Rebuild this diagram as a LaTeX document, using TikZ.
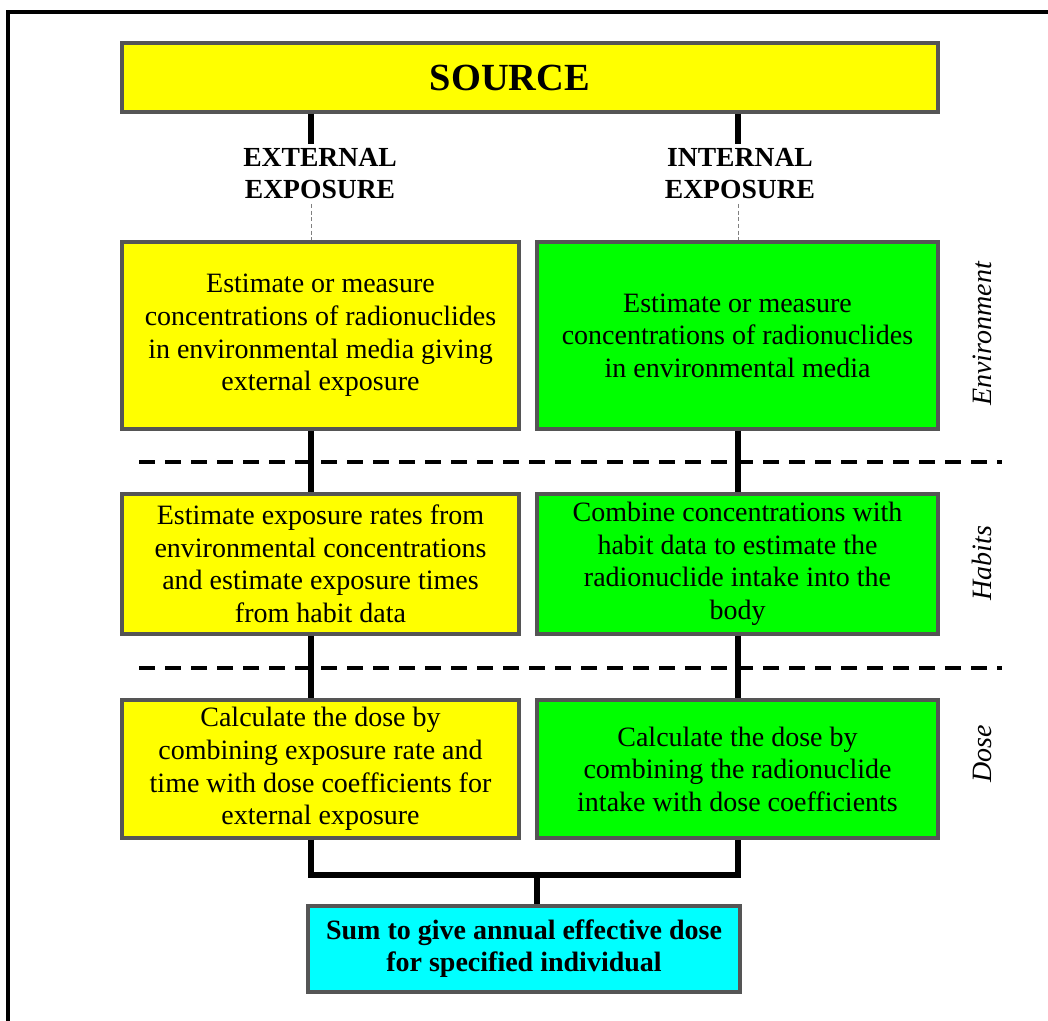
\documentclass[tikz,border=0pt]{standalone}
\usepackage{fontspec}
\setmainfont{Liberation Serif}
\usepackage{xcolor}
\usepackage{tikz}
\usetikzlibrary{calc}

\definecolor{boxyellow}{RGB}{255,255,0}
\definecolor{boxgreen}{RGB}{0,255,0}
\definecolor{boxcyan}{RGB}{0,255,255}
\definecolor{boxedge}{RGB}{85,85,85}

\begin{document}
\begin{tikzpicture}[x=0.75pt, y=-0.75pt,
    box/.style={draw=boxedge, line width=2.6pt, align=center, inner sep=0pt,
        font=\fontsize{21}{24.4}\selectfont},
    lbox/.style={box, fill=boxyellow, minimum width=297.75pt},
    rbox/.style={box, fill=boxgreen, minimum width=300.75pt},
    kind/.style={align=center, font=\fontsize{20.7}{24}\selectfont\bfseries},
    side/.style={rotate=90, font=\fontsize{21}{24}\selectfont\itshape},
    link/.style={line width=5.2pt},
    lane/.style={line width=3pt, dash pattern=on 12pt off 7.5pt}
]
    \useasboundingbox (0,0) rectangle (1048,1020);

    % Frame
    \draw[line width=3pt] (8,1030) -- (8,12.5) -- (1060,12.5);

    % Separators between the stages
    \foreach \y in {462,668}{
        \draw[lane] (139,\y) -- (1002,\y);
    }

    % Nodes
    \node[box, fill=boxyellow, minimum width=612pt, minimum height=51.75pt,
        font=\fontsize{28.8}{30}\selectfont\bfseries] (source) at (530,77.5) {SOURCE\hspace*{30pt}};

    \node[kind] (extlbl) at (320,174) {EXTERNAL\\EXPOSURE};
    \node[kind] (intlbl) at (740,174) {INTERNAL\\EXPOSURE};

    \node[lbox, minimum height=140.25pt] (env1) at (320.5,335.5)
        {Estimate or measure\\concentrations of radionuclides\\in environmental media giving\\external exposure};
    \node[rbox, minimum height=140.25pt] (env2) at (737.5,335.5)
        {Estimate or measure\\concentrations of radionuclides\\in environmental media};

    \node[lbox, minimum height=105pt] (hab1) at (320.5,564)
        {Estimate exposure rates from\\environmental concentrations\\and estimate exposure times\\from habit data};
    \node[rbox, minimum height=105pt] (hab2) at (737.5,564)
        {Combine concentrations with\\habit data to estimate the\\radionuclide intake into the\\body};

    \node[lbox, minimum height=103.5pt] (dose1) at (320.5,769)
        {Calculate the dose by\\combining exposure rate and\\time with dose coefficients for\\external exposure};
    \node[rbox, minimum height=103.5pt] (dose2) at (737.5,769)
        {Calculate the dose by\\combining the radionuclide\\intake with dose coefficients};

    \node[box, fill=boxcyan, minimum width=324pt, minimum height=64.5pt,
        font=\fontsize{21}{24}\selectfont\bfseries] (sum) at (524,949)
        {Sum to give annual effective dose\\for specified individual};

    % Stage names
    \node[side] (envlbl) at (982,334) {Environment};
    \node[side] (hablbl) at (982,563) {Habits};
    \node[side] (doselbl) at (982,754) {Dose};

    % Connectors
    \coordinate (lx) at (311,0);
    \coordinate (rx) at (738,0);
    \coordinate (join) at (537,875);

    \draw[link] (source.south -| lx) -- (extlbl.north -| lx);
    \draw[link] (source.south -| rx) -- (intlbl.north -| rx);
    \draw[line width=0.7pt, densely dashed, gray] (extlbl.south -| lx) -- (env1.north -| lx);
    \draw[line width=0.7pt, densely dashed, gray] (intlbl.south -| rx) -- (env2.north -| rx);

    \foreach \a/\b/\c in {env1/hab1/lx, hab1/dose1/lx, env2/hab2/rx, hab2/dose2/rx}{
        \draw[link] (\a.south -| \c) -- (\b.north -| \c);
    }

    \draw[link] (dose1.south -| lx) |- (join) -| (dose2.south -| rx);
    \draw[link] (join) -- (sum.north -| join);
\end{tikzpicture}
\end{document}
